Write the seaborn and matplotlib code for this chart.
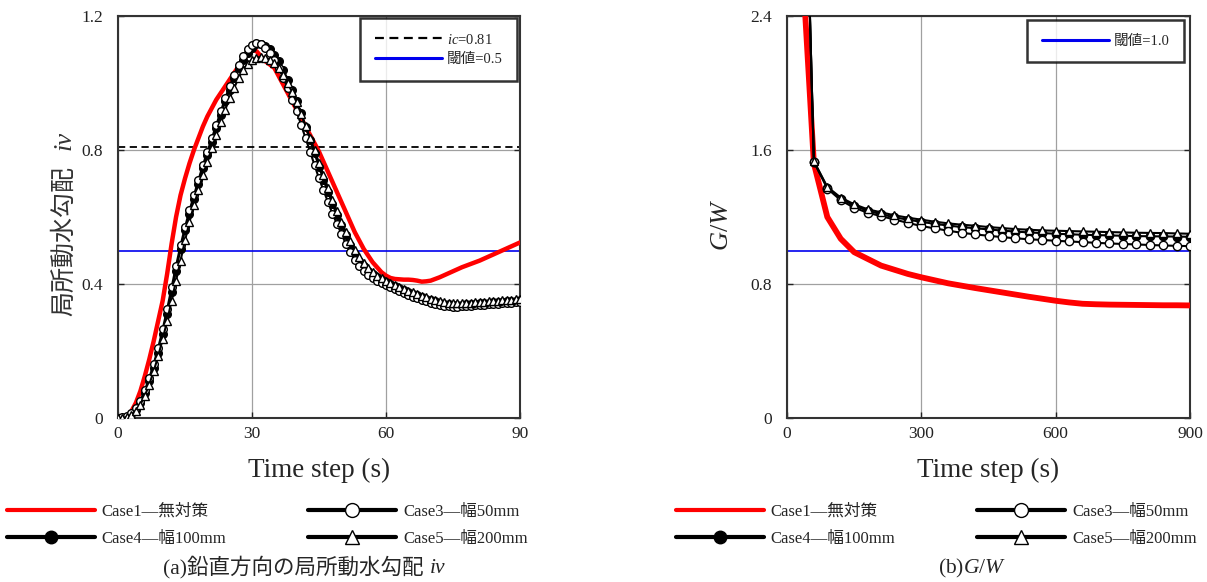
import matplotlib
matplotlib.use("Agg")
import matplotlib.pyplot as plt
from matplotlib.lines import Line2D
import seaborn as sns

# ---------------- data ----------------
# (a) local vertical hydraulic gradient iv, t = 0..90 s (1 s step)
t_a = list(range(0, 91))
case1_iv = [0, 0, 0.005, 0.02, 0.045, 0.08, 0.125, 0.175, 0.23, 0.29,
            0.35, 0.43, 0.52, 0.60, 0.665, 0.715, 0.76, 0.80, 0.835, 0.87,
            0.90, 0.925, 0.95, 0.97, 0.99, 1.01, 1.03, 1.05, 1.07, 1.085,
            1.10, 1.095, 1.08, 1.065, 1.055, 1.045, 1.02, 0.995, 0.97, 0.945,
            0.92, 0.895, 0.87, 0.845, 0.82, 0.795, 0.765, 0.735, 0.705, 0.675,
            0.645, 0.615, 0.585, 0.555, 0.53, 0.505, 0.485, 0.465, 0.45, 0.435,
            0.425, 0.418, 0.415, 0.414, 0.413, 0.413, 0.412, 0.41, 0.407, 0.408,
            0.41, 0.415, 0.42, 0.426, 0.432, 0.438, 0.444, 0.45, 0.455, 0.46,
            0.465, 0.47, 0.476, 0.482, 0.488, 0.494, 0.50, 0.506, 0.512, 0.518,
            0.524]
case3_iv = [0, 0.002, 0.006, 0.015, 0.03, 0.052, 0.083, 0.12, 0.162, 0.21,
            0.265, 0.325, 0.39, 0.455, 0.515, 0.57, 0.62, 0.665, 0.71, 0.755,
            0.795, 0.835, 0.875, 0.915, 0.955, 0.99, 1.025, 1.055, 1.08, 1.10,
            1.113, 1.118, 1.115, 1.105, 1.09, 1.07, 1.045, 1.015, 0.985, 0.95,
            0.915, 0.875, 0.835, 0.795, 0.755, 0.715, 0.68, 0.645, 0.61, 0.58,
            0.55, 0.52, 0.495, 0.472, 0.455, 0.44, 0.428, 0.418, 0.41, 0.403,
            0.397, 0.391, 0.385, 0.379, 0.373, 0.367, 0.362, 0.357, 0.352, 0.348,
            0.344, 0.34, 0.337, 0.335, 0.333, 0.332, 0.332, 0.333, 0.334, 0.335,
            0.336, 0.337, 0.338, 0.339, 0.34, 0.341, 0.342, 0.343, 0.344, 0.345,
            0.346]
case4_iv = [0, 0, 0.004, 0.012, 0.025, 0.045, 0.075, 0.11, 0.15, 0.195,
            0.25, 0.31, 0.375, 0.44, 0.505, 0.56, 0.61, 0.655, 0.70, 0.745,
            0.785, 0.825, 0.865, 0.905, 0.945, 0.98, 1.015, 1.045, 1.07, 1.09,
            1.105, 1.115, 1.115, 1.11, 1.10, 1.085, 1.065, 1.04, 1.01, 0.98,
            0.945, 0.91, 0.87, 0.83, 0.79, 0.75, 0.71, 0.675, 0.64, 0.605,
            0.575, 0.545, 0.515, 0.49, 0.47, 0.455, 0.44, 0.43, 0.42, 0.413,
            0.406, 0.40, 0.394, 0.388, 0.382, 0.376, 0.371, 0.366, 0.361, 0.356,
            0.352, 0.348, 0.344, 0.341, 0.339, 0.338, 0.338, 0.338, 0.339, 0.34,
            0.341, 0.342, 0.343, 0.344, 0.345, 0.346, 0.347, 0.348, 0.349, 0.35,
            0.352]
case5_iv = [0, 0, 0.003, 0.01, 0.022, 0.04, 0.066, 0.10, 0.14, 0.185,
            0.235, 0.29, 0.35, 0.41, 0.47, 0.53, 0.585, 0.635, 0.68, 0.725,
            0.765, 0.805, 0.845, 0.885, 0.92, 0.955, 0.985, 1.015, 1.04, 1.058,
            1.07, 1.076, 1.078, 1.076, 1.07, 1.06, 1.045, 1.025, 1.00, 0.972,
            0.942, 0.908, 0.872, 0.836, 0.80, 0.762, 0.724, 0.688, 0.652, 0.618,
            0.586, 0.556, 0.528, 0.502, 0.48, 0.462, 0.447, 0.435, 0.425, 0.417,
            0.41, 0.404, 0.398, 0.392, 0.386, 0.38, 0.375, 0.37, 0.365, 0.36,
            0.356, 0.352, 0.348, 0.345, 0.343, 0.342, 0.342, 0.342, 0.343, 0.344,
            0.345, 0.346, 0.347, 0.348, 0.349, 0.35, 0.351, 0.352, 0.353, 0.354,
            0.356]
ic_value = 0.81
threshold_a = 0.5

# (b) G/W, t = 30..900 s (30 s step)
t_b = list(range(30, 901, 30))
case1_gw = [2.9, 1.52, 1.20, 1.07, 0.99, 0.95, 0.91, 0.885, 0.86, 0.84,
            0.822, 0.804, 0.79, 0.776, 0.763, 0.75, 0.737, 0.724, 0.712, 0.70,
            0.69, 0.682, 0.679, 0.677, 0.676, 0.675, 0.674, 0.673, 0.673, 0.672]
case3_gw = [4.5, 1.53, 1.37, 1.30, 1.255, 1.226, 1.205, 1.185, 1.165, 1.146,
            1.132, 1.118, 1.106, 1.096, 1.088, 1.08, 1.073, 1.067, 1.063, 1.058,
            1.054, 1.05, 1.046, 1.042, 1.039, 1.036, 1.033, 1.03, 1.028, 1.026]
case4_gw = [4.5, 1.53, 1.375, 1.31, 1.268, 1.237, 1.217, 1.198, 1.184, 1.171,
            1.159, 1.149, 1.14, 1.133, 1.126, 1.119, 1.113, 1.108, 1.104, 1.10,
            1.097, 1.094, 1.092, 1.09, 1.088, 1.086, 1.085, 1.084, 1.083, 1.082]
case5_gw = [4.5, 1.534, 1.38, 1.316, 1.276, 1.246, 1.228, 1.21, 1.196, 1.184,
            1.172, 1.162, 1.154, 1.148, 1.14, 1.134, 1.128, 1.124, 1.12, 1.118,
            1.116, 1.114, 1.112, 1.11, 1.108, 1.106, 1.105, 1.104, 1.102, 1.10]
threshold_b = 1.0

labels = ["Case1\u2014無対策", "Case3\u2014幅50mm", "Case4\u2014幅100mm", "Case5\u2014幅200mm"]
xticks_a = [0, 30, 60, 90]
yticks_a = [0, 0.4, 0.8, 1.2]
yticklabels_a = ["0", "0.4", "0.8", "1.2"]
xticks_b = [0, 300, 600, 900]
yticks_b = [0, 0.8, 1.6, 2.4]
yticklabels_b = ["0", "0.8", "1.6", "2.4"]

# ---------------- style ----------------
sns.set_style("ticks")
SERIF = ['Liberation Serif', 'Noto Sans CJK JP', 'DejaVu Sans']
plt.rcParams['font.family'] = SERIF
plt.rcParams['mathtext.fontset'] = 'custom'
plt.rcParams['mathtext.rm'] = 'Liberation Serif'
plt.rcParams['mathtext.it'] = 'Liberation Serif:italic'
plt.rcParams['axes.unicode_minus'] = False

W, H = 1207, 582
fig = plt.figure(figsize=(W / 100, H / 100), dpi=100)
axA = fig.add_axes([118 / W, 1 - 418 / H, 402 / W, 402 / H])
axB = fig.add_axes([787 / W, 1 - 418 / H, 403 / W, 402 / H])

RED = '#ff0000'
BLUE = '#0000ee'


def draw(ax, t, c1, c3, c4, c5, red_lw, ms):
    mk = dict(color='black', linewidth=1.5, markersize=ms, markeredgewidth=1.0,
              markeredgecolor='black')
    sns.lineplot(x=t, y=c1, ax=ax, color=RED, linewidth=red_lw, zorder=3)
    sns.lineplot(x=t, y=c4, ax=ax, marker='o', markerfacecolor='black', zorder=4, **mk)
    sns.lineplot(x=t, y=c3, ax=ax, marker='o', markerfacecolor='white', zorder=5, **mk)
    sns.lineplot(x=t, y=c5, ax=ax, marker='^', markerfacecolor='white', zorder=6, **mk)


draw(axA, t_a, case1_iv, case3_iv, case4_iv, case5_iv, 3.2, 5.5)
draw(axB, t_b, case1_gw, case3_gw, case4_gw, case5_gw, 4.2, 6.0)

DASH = (0, (4, 2.5))
axA.axhline(ic_value, color='black', linestyle=DASH, linewidth=1.3, zorder=2)
axA.axhline(threshold_a, color=BLUE, linewidth=1.2, zorder=2)
axB.axhline(threshold_b, color=BLUE, linewidth=1.2, zorder=2)

for ax, xt, yt, ytl, xl in [(axA, xticks_a, yticks_a, yticklabels_a, (0, 90)),
                            (axB, xticks_b, yticks_b, yticklabels_b, (0, 900))]:
    ax.set_xlim(*xl)
    ax.set_ylim(yt[0], yt[-1])
    ax.set_xticks(xt)
    ax.set_yticks(yt)
    ax.set_yticklabels(ytl)
    ax.grid(True, color='#a0a0a0', linewidth=0.9, zorder=1)
    ax.set_axisbelow(True)
    ax.tick_params(direction='in', length=4, width=1.0, labelsize=12.5, colors='#222222',
                   right=True, top=False)
    ax.tick_params(axis='y', pad=11)
    ax.tick_params(axis='x', pad=6)
    for s in ax.spines.values():
        s.set_linewidth(1.5)
        s.set_color('#333333')
    ax.set_xlabel("Time step (s)", fontsize=19.5, labelpad=11)

axB.set_ylabel("$\\it{G/W}$", fontsize=19, labelpad=10)
axB.yaxis.set_label_coords(-0.135, 0.48)

# inner legends
legA = axA.legend([Line2D([], [], color='black', linestyle=DASH, linewidth=1.6),
                   Line2D([], [], color=BLUE, linewidth=2.2)],
                  ["$\\it{ic}$=0.81", "閾値=0.5"],
                  loc='upper right', bbox_to_anchor=(0.9925, 0.995), fontsize=10.5,
                  frameon=True, fancybox=False, edgecolor='black', handlelength=4.6,
                  borderpad=1.0, labelspacing=0.45, handletextpad=0.3, borderaxespad=0)
legA.get_frame().set_linewidth(1.8)
legB = axB.legend([Line2D([], [], color=BLUE, linewidth=2.2)], ["閾値=1.0"],
                  loc='upper right', bbox_to_anchor=(0.985, 0.99), fontsize=10.5,
                  frameon=True, fancybox=False, edgecolor='black', handlelength=4.6,
                  borderpad=1.0, handletextpad=0.3, borderaxespad=0)
legB.get_frame().set_linewidth(1.8)


# bottom legends
def bottom_handles():
    return [Line2D([], [], color=RED, linewidth=3.0),
            Line2D([], [], color='black', linewidth=3.0, marker='o', markersize=10,
                   markerfacecolor='white', markeredgecolor='black', markeredgewidth=1.0),
            Line2D([], [], color='black', linewidth=3.0, marker='o', markersize=9,
                   markerfacecolor='black', markeredgecolor='black'),
            Line2D([], [], color='black', linewidth=3.0, marker='^', markersize=10,
                   markerfacecolor='white', markeredgecolor='black', markeredgewidth=1.0)]


order = [0, 2, 1, 3]  # col1 = Case1, Case4 ; col2 = Case3, Case5
for x0 in [7, 676]:
    h = bottom_handles()
    fig.legend([h[i] for i in order], [labels[i] for i in order], ncol=2,
               loc='upper left', bbox_to_anchor=(x0 / W, 1 - 504 / H), fontsize=12,
               frameon=False, handlelength=5.27, numpoints=1, handletextpad=0.42,
               columnspacing=4.9, labelspacing=0.66, borderpad=0, borderaxespad=0)

# composite texts (CJK + italic) positioned with the renderer
fig.canvas.draw()
rend = fig.canvas.get_renderer()

# y label of (a)
yl = fig.text(71 / W, 1 - 316 / H, "局所動水勾配", rotation=90, rotation_mode='anchor',
              ha='left', va='baseline', fontsize=18, color='#333333')
bb = yl.get_window_extent(rend)
fig.text(71 / W, (bb.y1 + 16) / H, "iv", rotation=90, rotation_mode='anchor',
         ha='left', va='baseline', fontsize=19, style='italic',
         family=['Liberation Serif'], color='#333333')

# caption (a)
cap = fig.text(163 / W, 1 - 573 / H, "(a)鉛直方向の局所動水勾配", ha='left', va='baseline',
               fontsize=15.5)
bb = cap.get_window_extent(rend)
fig.text((bb.x1 + 6) / W, 1 - 573 / H, "iv", ha='left', va='baseline', fontsize=15.5,
         style='italic', family=['Liberation Serif'])

# caption (b)
fig.text(972 / W, 1 - 573 / H, "(b)$\\it{G/W}$", ha='center', va='baseline', fontsize=15.5)

fig.savefig("out.png", dpi=100)
